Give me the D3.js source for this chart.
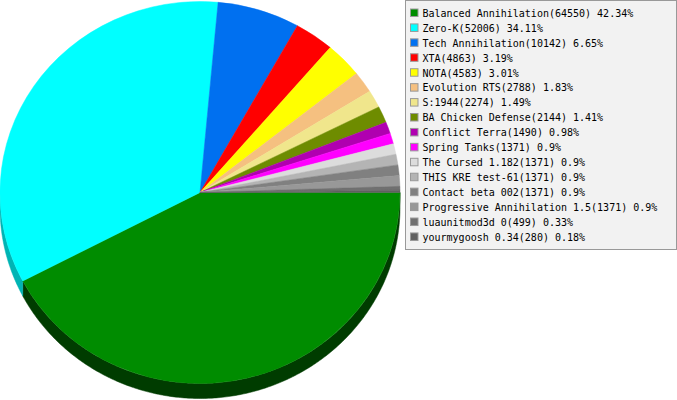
<!DOCTYPE html>
<html>
<head>
<meta charset="utf-8">
<script src="https://cdn.jsdelivr.net/npm/d3@7"></script>
<style>
  html, body { margin: 0; padding: 0; background: #ffffff; }
  svg { display: block; }
</style>
</head>
<body>
<svg id="chart" width="677" height="400"></svg>
<script>
// Games by player count
const names = [
  "Balanced Annihilation", "Zero-K", "Tech Annihilation", "XTA", "NOTA",
  "Evolution RTS", "S:1944", "BA Chicken Defense", "Conflict Terra",
  "Spring Tanks", "The Cursed 1.182", "THIS KRE test-61", "Contact beta 002",
  "Progressive Annihilation 1.5", "luaunitmod3d 0", "yourmygoosh 0.34"
];
const values = [64550, 52006, 10142, 4863, 4583, 2788, 2274, 2144, 1490,
                1371, 1371, 1371, 1371, 1371, 499, 280];
const colors = [
  "#008c00", "#00ffff", "#0070f0", "#ff0000", "#ffff00", "#f5c080",
  "#f0e68c", "#6e8c00", "#b000b0", "#ff00ff", "#dcdcdc", "#b4b4b4",
  "#808080", "#989898", "#707070", "#606060"
];
// rim colours for the extruded edge
const sideColors = [
  "#003c00", "#00b4b4", "#004ea8", "#b30000", "#b3b300", "#ab8659",
  "#a8a162", "#4d6200", "#7b007b", "#b300b3", "#9a9a9a", "#7e7e7e",
  "#5a5a5a", "#6a6a6a", "#4e4e4e", "#434343"
];

const svg = d3.select("#chart");
const total = d3.sum(values);
const pctText = v => String(+(v / total * 100).toFixed(2));

// Pie geometry: elliptical top face with a short extruded rim
const cx = 200, cy = 192.5, rx = 200, ry = 191, depth = 15;

const data = names.map((n, i) => ({ name: n, value: values[i], color: colors[i], side: sideColors[i] }));

const pie = d3.pie()
  .sort(null)
  .value(d => d.value)
  .startAngle(Math.PI / 2)
  .endAngle(Math.PI / 2 + 2 * Math.PI);
const arcs = pie(data);

// Rim: only the front half (screen angles 0..PI) is visible
const rim = svg.append("g");
const ptTop = t => [cx + rx * Math.cos(t), cy + ry * Math.sin(t)];
arcs.forEach(a => {
  const t0 = Math.max(a.startAngle - Math.PI / 2, 0);
  const t1 = Math.min(a.endAngle - Math.PI / 2, Math.PI);
  if (t1 <= t0) return;
  const n = Math.max(2, Math.ceil((t1 - t0) / 0.01));
  const ts = d3.range(n + 1).map(k => t0 + (t1 - t0) * k / n);
  const top = ts.map(ptTop);
  const bottom = ts.slice().reverse().map(t => {
    const p = ptTop(t);
    return [p[0], p[1] + depth];
  });
  rim.append("path")
    .attr("d", d3.line()(top.concat(bottom)) + "Z")
    .attr("fill", a.data.side)
    .attr("stroke", a.data.side)
    .attr("stroke-width", 0.5);
});

// Top face
const arc = d3.arc().innerRadius(0).outerRadius(rx);
svg.append("g")
  .attr("transform", `translate(${cx},${cy}) scale(1,${ry / rx})`)
  .selectAll("path")
  .data(arcs)
  .join("path")
  .attr("d", arc)
  .attr("fill", d => d.data.color)
  .attr("stroke", d => d.data.color)
  .attr("stroke-width", 0.5);

// Legend
const legend = svg.append("g");
legend.append("rect")
  .attr("x", 405.5).attr("y", 0.5)
  .attr("width", 271).attr("height", 249)
  .attr("fill", "#f2f2f2")
  .attr("stroke", "#999999");

const rowY = d3.scaleLinear().domain([0, 1]).range([8.5, 8.5 + 14.93]);
const rows = legend.selectAll("g.row")
  .data(data)
  .join("g")
  .attr("class", "row")
  .attr("transform", (d, i) => `translate(0,${rowY(i)})`);

rows.append("rect")
  .attr("x", 410.5).attr("y", 0.5)
  .attr("width", 7.5).attr("height", 7.5)
  .attr("fill", d => d.color)
  .attr("stroke", "#999999");

rows.append("text")
  .attr("x", 422.5).attr("y", 8.3)
  .attr("font-family", "'DejaVu Sans Mono', monospace")
  .attr("font-size", "10px")
  .attr("fill", "#000000")
  .text(d => `${d.name}(${d.value}) ${pctText(d.value)}%`);
</script>
</body>
</html>
